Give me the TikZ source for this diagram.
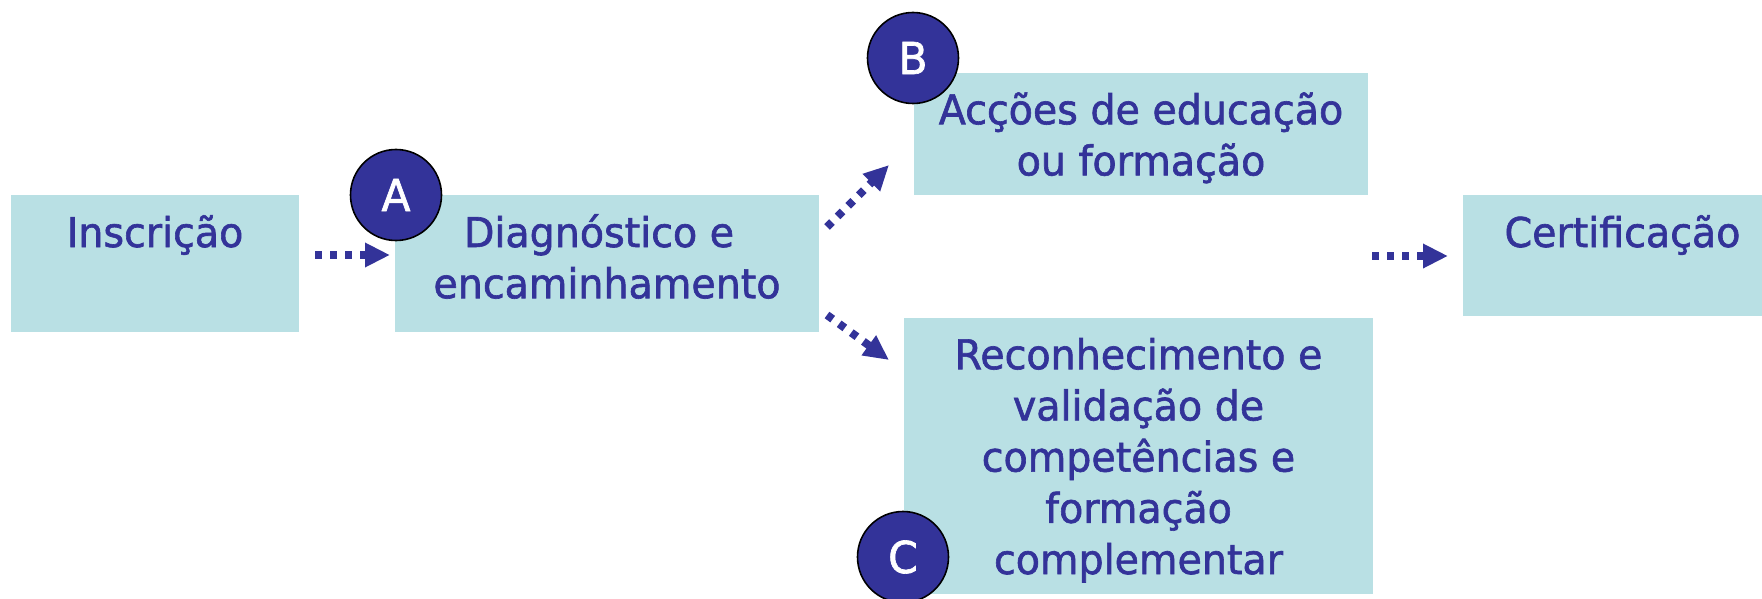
\documentclass[tikz,border=0pt]{standalone}
\usepackage{fontspec}
\setmainfont[FakeStretch=0.965,FakeBold=1.5]{DejaVu Sans}
\usetikzlibrary{arrows.meta}
\definecolor{navy}{RGB}{51,51,153}
\definecolor{boxfill}{RGB}{185,224,228}
\tikzset{
  stagebox/.style={rectangle, fill=boxfill, draw=none, inner sep=0pt},
  stagetext/.style={anchor=north, inner sep=0pt, align=center, text=navy,
    font={\fontsize{20.5pt}{25.6pt}\selectfont}},
  badge/.style={circle, minimum size=45.5pt, inner sep=0pt, fill=navy, draw=black,
    line width=0.8pt, text=white, font={\fontsize{22pt}{26pt}\selectfont}},
  flow/.style={navy, line width=4pt, dash pattern=on 3.5pt off 4pt,
    -{Triangle[length=12.5pt,width=11.5pt]}},
}
\begin{document}
\begin{tikzpicture}[x=0.5pt, y=-0.5pt]
\useasboundingbox (0,0) rectangle (1762,599);
% boxes
\node[stagebox, minimum width=144pt, minimum height=68.5pt] (ins) at (155,263.5) {};
\node[stagebox, minimum width=212pt, minimum height=68.5pt] (diag) at (607,263.5) {};
\node[stagebox, minimum width=227pt, minimum height=61pt] (acc) at (1141,134) {};
\node[stagebox, minimum width=159.5pt, minimum height=60.5pt] (cert) at (1622.5,255.5) {};
\node[stagebox, minimum width=234.5pt, minimum height=138pt] (rec) at (1138.5,456) {};
% texts
\node[stagetext] (tins) at (ins.north) {\rule{0pt}{26pt}Inscrição};
\node[stagetext] (tdiag) at (diag.north) {\rule{0pt}{26pt}Diagnóstico e\makebox[8pt]{}\\encaminhamento};
\node[stagetext] (tacc) at (acc.north) {\rule{0pt}{25.6pt}Acções de educação\\ou formação};
\node[stagetext] (tcert) at (cert.north) {\rule{0pt}{26pt}Certificação};
\node[stagetext] (trec) at (rec.north) {\rule{0pt}{25.6pt}Reconhecimento e\\validação de\\competências e\\formação\\complementar};
% badges
\node[badge] (bA) at (396,195) {A};
\node[badge] (bB) at (913,58) {B};
\node[badge] (bC) at (903,557) {C};
% connector ends
\coordinate (a1) at (315,255);
\coordinate (a2) at (390,255);
\coordinate (b1) at (827,227);
\coordinate (b2) at (889,165);
\coordinate (c1) at (827,315);
\coordinate (c2) at (889,360);
\coordinate (d1) at (1372,256);
\coordinate (d2) at (1448,256);
\draw[flow] (a1) -- (a2);
\draw[flow] (b1) -- (b2);
\draw[flow] (c1) -- (c2);
\draw[flow] (d1) -- (d2);
\end{tikzpicture}
\end{document}
